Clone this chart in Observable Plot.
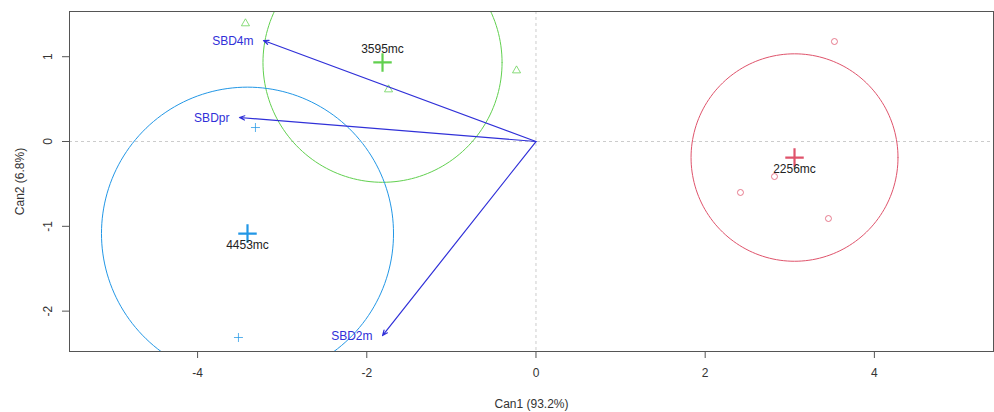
<!DOCTYPE html>
<html><head><meta charset="utf-8">
<script src="https://cdn.jsdelivr.net/npm/d3@7"></script>
<script src="https://cdn.jsdelivr.net/npm/@observablehq/plot@0.6"></script>
<style>
body{margin:0;background:#fff}
#chart svg{font-family:"Liberation Sans",Arial,sans-serif;background:#fff}
</style>
</head><body><div id="chart"></div>
<script>
// groups (class means, data circles)
const groups = ["2256mc", "3595mc", "4453mc"];
const groupColors = ["#DF536B", "#61D04F", "#2297E6"];
const groupSymbols = ["circle", "triangle", "plus"];
const centerCan1 = [3.056, -1.814, -3.410];
const centerCan2 = [-0.189, 0.932, -1.085];
const circleRadius = [1.223, 1.413, 1.726];
const labelOffsetDir = [1, -1, 1]; // below, above, below

// observations (canonical scores)
const obsGroup = ["2256mc", "2256mc", "2256mc", "2256mc", "3595mc", "3595mc", "3595mc", "4453mc", "4453mc"];
const obsCan1 = [3.528, 2.417, 2.819, 3.457, -3.434, -0.230, -1.743, -3.316, -3.517];
const obsCan2 = [1.179, -0.601, -0.413, -0.908, 1.392, 0.837, 0.613, 0.165, -2.311];

// structure vectors
const vars = ["SBD4m", "SBDpr", "SBD2m"];
const varCan1 = [-3.221, -3.505, -1.814];
const varCan2 = [1.191, 0.283, -2.288];

// axes
const xTicks = [-4, -2, 0, 2, 4];
const yTicks = [-2, -1, 0, 1];
const xDomain = [-5.514, 5.408];
const yDomain = [-2.476, 1.533];

const centers = groups.map((g, i) => ({group: g, x: centerCan1[i], y: centerCan2[i], r: circleRadius[i], dir: labelOffsetDir[i]}));
const obs = obsGroup.map((g, i) => ({group: g, x: obsCan1[i], y: obsCan2[i]}));
const vecs = vars.map((v, i) => ({name: v, x: varCan1[i], y: varCan2[i]}));
const circles = centers.flatMap(c => d3.range(0, 361, 2).map(a => ({
  group: c.group,
  x: c.x + c.r * Math.cos(a * Math.PI / 180),
  y: c.y + c.r * Math.sin(a * Math.PI / 180)
})));

const ink = "#333";
const arrowBlue = "#3030d8";
const fmt = d => String(d);

const chart = Plot.plot({
  width: 994,
  height: 412,
  marginTop: 11,
  marginRight: 1,
  marginBottom: 61,
  marginLeft: 69,
  style: {fontFamily: "Liberation Sans, Arial, sans-serif", fontSize: "12px", background: "#fff"},
  x: {domain: xDomain},
  y: {domain: yDomain},
  color: {domain: groups, range: groupColors},
  symbol: {domain: groups, range: groupSymbols},
  marks: [
    Plot.ruleX([0], {stroke: "#cccccc", strokeDasharray: "3,3", strokeWidth: 1}),
    Plot.ruleY([0], {stroke: "#cccccc", strokeDasharray: "3,3", strokeWidth: 1}),
    Plot.line(circles, {x: "x", y: "y", z: "group", stroke: "group", strokeWidth: 1, clip: true}),
    Plot.dot(obs, {x: "x", y: "y", stroke: "group", symbol: "group", r: 3, strokeWidth: 1, strokeOpacity: 0.75, fill: "none"}),
    Plot.dot(centers, {x: "x", y: "y", stroke: "group", symbol: "plus", r: 6, strokeWidth: 2.2}),
    Plot.arrow(vecs, {x1: 0, y1: 0, x2: "x", y2: "y", stroke: arrowBlue, strokeWidth: 1.2, headLength: 7, headAngle: 45}),
    Plot.text(vecs, {x: "x", y: "y", text: "name", fill: arrowBlue, textAnchor: "end", dx: -10, dy: 1, fontSize: 12}),
    Plot.text(centers.filter(c => c.dir < 0), {x: "x", y: "y", text: "group", fill: "#222", dy: -13, fontSize: 12}),
    Plot.text(centers.filter(c => c.dir > 0), {x: "x", y: "y", text: "group", fill: "#222", dy: 12, fontSize: 12}),
    Plot.frame({stroke: "#555"}),
    Plot.axisX(xTicks, {tickSize: 7, tickPadding: 10, stroke: "#555", color: ink, fontSize: 12, tickFormat: fmt,
      label: "Can1 (93.2%)", labelAnchor: "center", labelOffset: 56, labelArrow: "none"}),
    Plot.axisY(yTicks, {tickSize: 7, tickPadding: 11, tickRotate: -90, stroke: "#555", color: ink, fontSize: 12, tickFormat: fmt,
      label: "Can2 (6.8%)", labelAnchor: "center", labelOffset: 54, labelArrow: "none"})
  ]
});
document.getElementById("chart").appendChild(chart);
</script>
</body></html>
